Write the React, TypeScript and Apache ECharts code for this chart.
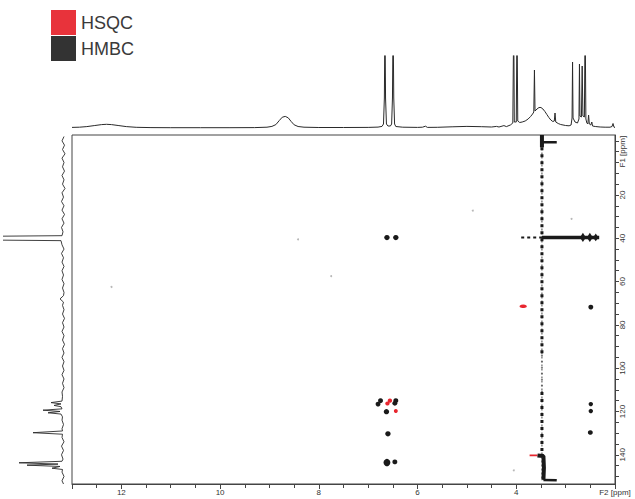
import React, { useEffect, useRef } from "react";
import * as echarts from "echarts";

// Axis ranges (ppm)
const F2_MIN = 2;
const F2_MAX = 13;
const F1_MIN = -7.7;
const F1_MAX = 153.5;

// F1 tick / label positions
const f1TickValues = [-5, 0, 5, 10, 15, 20, 25, 30, 35, 40, 45, 50, 55, 60, 65, 70, 75, 80, 85, 90, 95, 100, 105, 110, 115, 120, 125, 130, 135, 140, 145, 150];
const f1LabelValues = [0, 20, 40, 60, 80, 100, 120, 140];

// 1H projection (F2 ppm, intensity)
const protonProjection: [number, number][] = [
  [13.0, 0.6], [12.85, 0.8], [12.7, 1.4], [12.55, 2.4], [12.4, 3.4], [12.3, 3.7], [12.2, 3.4], [12.05, 2.4],
  [11.9, 1.4], [11.7, 0.7], [11.4, 0.4], [11.0, 0.3], [10.4, 0.3], [9.8, 0.3], [9.3, 0.4], [9.05, 0.8],
  [8.95, 1.6], [8.87, 3.4], [8.8, 7.5], [8.74, 10.8], [8.68, 11.6], [8.62, 10.2], [8.56, 6.5], [8.5, 3.2],
  [8.42, 1.5], [8.3, 0.8], [8.0, 0.5], [7.5, 0.5], [7.0, 0.6], [6.8, 0.9], [6.72, 1.6], [6.69, 4],
  [6.672, 30], [6.66, 110], [6.648, 30], [6.63, 4], [6.6, 2], [6.55, 2], [6.525, 4], [6.508, 30],
  [6.495, 110], [6.482, 30], [6.465, 4], [6.44, 1.5], [6.3, 0.8], [6.0, 0.6], [5.9, 0.8], [5.84, 1.8],
  [5.8, 0.6], [5.6, 0.7], [5.3, 1.2], [5.0, 1.6], [4.7, 1.3], [4.5, 1.0], [4.4, 1.6], [4.35, 1.0],
  [4.25, 2.4], [4.2, 1.4], [4.12, 3], [4.07, 5], [4.052, 110], [4.04, 6], [4.0, 6], [3.985, 110],
  [3.97, 7], [3.93, 5.5], [3.88, 6], [3.82, 7], [3.76, 9], [3.71, 11.5], [3.67, 14], [3.645, 16],
  [3.632, 58], [3.62, 17], [3.58, 19], [3.54, 20.5], [3.5, 20.5], [3.46, 19], [3.42, 16.5], [3.38, 13.5],
  [3.34, 10.5], [3.3, 8], [3.26, 6.5], [3.23, 7], [3.215, 15], [3.2, 6], [3.15, 4.5], [3.1, 3.5],
  [3.0, 2.5], [2.93, 2.2], [2.89, 3], [2.87, 10], [2.86, 66], [2.85, 10], [2.81, 6], [2.76, 5],
  [2.73, 9], [2.72, 64], [2.71, 12], [2.68, 11], [2.665, 62], [2.65, 12], [2.62, 11], [2.605, 110],
  [2.59, 9], [2.57, 5], [2.55, 4], [2.535, 13], [2.52, 4], [2.49, 3], [2.47, 6], [2.455, 2],
  [2.4, 1.5], [2.3, 1], [2.2, 0.8], [2.1, 0.8], [2.06, 1.5], [2.04, 4.5], [2.02, 0.8], [2.0, 0.6],
];

// 13C projection baseline (F1 ppm, intensity)
const carbonBaseline: [number, number][] = [
  [-7, 1], [-5, 3], [-3, 0.5], [-1, 2.5], [1, 0], [3, 3], [5, 1], [7, 2.5], [9, 0.5], [11, 3],
  [13, 1], [15, 2.5], [17, 0], [19, 3], [21, 1.5], [23, 3.5], [25, 1], [27, 3], [29, 0.5], [31, 3],
  [33, 1], [35, 3.5], [37, 2], [43, 3], [45, 1], [47, 3.5], [49, 1.5], [51, 3], [53, 1], [55, 3],
  [57, 1.5], [59, 3], [61, 1], [63, 2.5], [65, 1], [71, 2.5], [73, 1], [75, 2.5], [77, 0.5], [79, 2.5],
  [81, 1], [83, 3], [85, 1], [87, 2.5], [89, 0.5], [91, 2.5], [93, 1], [95, 3], [97, 1], [99, 2.5],
  [101, 1], [103, 3], [105, 1], [107, 2.5], [109, 1], [111, 3], [113, 2.5], [124, 3], [126, 1.5],
  [128, 3], [132, 3], [134, 1], [136, 3.5], [138, 1.5], [140, 3.5], [142, 2], [148, 3], [150, 1],
  [152, 3], [153.5, 1.5],
];

// 13C projection peaks (F1 ppm, intensity)
const carbonPeaks: [number, number][] = [
  [38.8, 3], [39.3, 130], [40.6, 130], [41.1, 4],
  [66.5, 1.5], [68, 5], [69.5, 1.5],
  [115.2, 3], [115.9, 14], [116.5, 4], [117.2, 11], [117.8, 4], [118.8, 3], [119.4, 22], [120.0, 5],
  [120.6, 17], [121.2, 4], [122.5, 2.5],
  [129, 2.5], [129.8, 32], [130.5, 2.5],
  [143, 3], [143.7, 46], [144.3, 7], [144.8, 38], [145.4, 5], [146.2, 13], [146.8, 2.5],
];

// Cross peaks: [F2, F1, extent in F2, extent in F1] (ppm)
const hsqcPeaks: [number, number, number, number][] = [
  [3.86, 71.4, 0.15, 1.7],
  [6.56, 115.0, 0.09, 1.9],
  [6.61, 116.3, 0.09, 1.9],
  [6.44, 119.8, 0.08, 1.8],
];

const hmbcPeaks: [number, number, number, number][] = [
  [6.62, 39.7, 0.11, 2.4],
  [6.44, 39.7, 0.11, 2.4],
  [2.49, 71.8, 0.1, 2.2],
  [2.49, 116.6, 0.09, 2.0],
  [2.49, 119.8, 0.09, 2.0],
  [2.5, 129.7, 0.1, 2.1],
  [6.75, 115.0, 0.1, 2.2],
  [6.8, 116.6, 0.1, 2.2],
  [6.44, 115.0, 0.1, 2.2],
  [6.46, 116.2, 0.1, 2.2],
  [6.63, 120.1, 0.11, 2.4],
  [6.6, 130.3, 0.11, 2.4],
  [6.62, 143.6, 0.14, 3.4],
  [6.46, 143.3, 0.1, 2.2],
];

// Solvent ridge multiplet on F1 ≈ 39.6
const ridgeBlobs: [number, number, number, number][] = [
  [2.65, 39.6, 0.12, 4.2],
  [2.51, 39.6, 0.12, 4.2],
  [2.39, 39.6, 0.11, 3.6],
];

// Weak isolated noise points
const noisePoints: [number, number][] = [
  [12.2, 62.5], [8.42, 40.5], [7.75, 57.5], [4.88, 27.2], [2.88, 31], [4.05, 147.2],
];

// t1-noise streak and ridge traces (F2, F1)
const streakF2 = 3.48;
const ridgeF1 = 39.6;
const streakCore: [number, number][] = [[streakF2, -7], [streakF2, 152]];
const streakDenseUpper: [number, number][] = [[streakF2, -2], [streakF2, 94]];
const streakSparse: [number, number][] = [[streakF2, 94], [streakF2, 111]];
const streakDenseLower: [number, number][] = [[streakF2, 111], [streakF2, 140]];
const streakTopCap: [number, number][] = [[streakF2, -7.7], [streakF2, -2]];
const streakTopSpur: [number, number][] = [[streakF2, -4.3], [3.18, -4.3]];
const streakBottomRed: [number, number][] = [[3.73, 140.3], [3.57, 140.3]];
const streakBottom: [number, number][] = [[3.57, 140.3], [3.45, 140.6], [3.44, 146], [3.45, 151.6]];
const streakBottomSpur: [number, number][] = [[3.45, 151.6], [3.18, 151.8]];
const ridgeDotted: [number, number][] = [[3.9, ridgeF1], [streakF2, ridgeF1]];
const ridgeSolid: [number, number][] = [[streakF2, ridgeF1], [2.32, ridgeF1]];

// Layout
const PLOT_LEFT = 72;
const PLOT_TOP = 135;
const PLOT_W = 543;
const PLOT_H = 349;
const PX_PER_F2 = PLOT_W / (F2_MAX - F2_MIN);
const PX_PER_F1 = PLOT_H / (F1_MAX - F1_MIN);

const RED = "#e8262f";
const BLACK = "#1a1a1a";
const FONT = "'Liberation Sans', Arial, sans-serif";

function peakSize(v: number[]) {
  return [v[2] * PX_PER_F2, v[3] * PX_PER_F1];
}

function trace(data: [number, number][], width: number, color: string, type: any = "solid") {
  return {
    type: "line",
    xAxisIndex: 0,
    yAxisIndex: 0,
    data,
    symbol: "none",
    silent: true,
    lineStyle: { width, color, type },
    z: 3,
  };
}

export default function App() {
  const ref = useRef<HTMLDivElement>(null);

  useEffect(() => {
    if (!ref.current) return;
    const chart = echarts.init(ref.current, undefined, { renderer: "svg" });

    const carbonProjection = [...carbonBaseline, ...carbonPeaks]
      .sort((a, b) => a[0] - b[0])
      .map((p) => [p[1], p[0]]);

    const option: any = {
      animation: false,
      backgroundColor: "#ffffff",
      legend: {
        data: [
          { name: "HSQC", itemStyle: { color: "#e8333b", opacity: 1 } },
          { name: "HMBC", itemStyle: { color: "#333333", opacity: 1 } },
        ],
        orient: "vertical",
        left: 51,
        top: 10,
        padding: 0,
        itemWidth: 25,
        itemHeight: 25,
        itemGap: 1,
        icon: "rect",
        selectedMode: false,
        textStyle: { fontSize: 18, color: "#3a3a3a", fontFamily: FONT },
      },
      grid: [
        {
          left: PLOT_LEFT, top: PLOT_TOP, width: PLOT_W, height: PLOT_H,
          show: true, borderColor: "#444", borderWidth: 1, backgroundColor: "transparent",
        },
        { left: PLOT_LEFT, top: 56, width: PLOT_W, height: 73 },
        { left: 4, top: PLOT_TOP, width: 64, height: PLOT_H },
      ],
      xAxis: [
        {
          gridIndex: 0,
          type: "value",
          min: F2_MIN,
          max: F2_MAX,
          inverse: true,
          interval: 2,
          axisLine: { show: true, onZero: false, lineStyle: { color: "#444" } },
          axisTick: { show: true, length: 5, lineStyle: { color: "#444" } },
          minorTick: { show: true, splitNumber: 4, length: 4, lineStyle: { color: "#444" } },
          splitLine: { show: false },
          axisLabel: {
            fontSize: 8,
            color: "#333",
            fontFamily: FONT,
            margin: 4,
            showMinLabel: true,
            showMaxLabel: false,
            formatter: (v: number) => (v === 2 ? "F2 [ppm]" : v === 13 ? "" : String(v)),
          },
        },
        { gridIndex: 1, type: "value", min: F2_MIN, max: F2_MAX, inverse: true, show: false },
        { gridIndex: 2, type: "value", min: -3, max: 61, inverse: true, show: false },
      ],
      yAxis: [
        {
          gridIndex: 0,
          type: "value",
          position: "right",
          min: F1_MIN,
          max: F1_MAX,
          inverse: true,
          axisLine: { show: true, onZero: false, lineStyle: { color: "#444" } },
          axisTick: { show: true, length: 4, customValues: f1TickValues, lineStyle: { color: "#444" } },
          splitLine: { show: false },
          axisLabel: {
            customValues: f1LabelValues,
            rotate: 90,
            fontSize: 8,
            color: "#333",
            fontFamily: FONT,
            margin: 3,
            formatter: (v: number) => (v === 0 ? "F1 [ppm]" : String(v)),
          },
        },
        { gridIndex: 1, type: "value", min: -1, max: 72, show: false },
        { gridIndex: 2, type: "value", min: F1_MIN, max: F1_MAX, inverse: true, show: false },
      ],
      series: [
        {
          type: "line",
          xAxisIndex: 1,
          yAxisIndex: 1,
          data: protonProjection,
          symbol: "none",
          silent: true,
          clip: true,
          lineStyle: { width: 1, color: "#2a2a2a" },
        },
        {
          type: "line",
          xAxisIndex: 2,
          yAxisIndex: 2,
          data: carbonProjection,
          symbol: "none",
          silent: true,
          clip: true,
          lineStyle: { width: 0.9, color: "#2a2a2a" },
        },
        trace(streakCore, 1, "#444", [2, 2]),
        trace(streakDenseUpper, 3, BLACK, [3, 4]),
        trace(streakSparse, 2, "#555", [1, 5]),
        trace(streakDenseLower, 3, BLACK, [3, 4]),
        trace(streakTopCap, 4, BLACK),
        trace(streakTopSpur, 2.5, BLACK),
        trace(streakBottomRed, 1.6, RED),
        trace(streakBottom, 4, BLACK),
        trace(streakBottomSpur, 2.5, BLACK),
        trace(ridgeDotted, 2, BLACK, [3, 3]),
        trace(ridgeSolid, 3.5, BLACK),
        {
          type: "scatter",
          xAxisIndex: 0,
          yAxisIndex: 0,
          data: noisePoints,
          symbol: "circle",
          symbolSize: 2,
          silent: true,
          itemStyle: { color: "#b8b8b8", opacity: 1 },
          z: 2,
        },
        {
          type: "scatter",
          xAxisIndex: 0,
          yAxisIndex: 0,
          data: ridgeBlobs,
          symbol: "diamond",
          symbolSize: peakSize,
          silent: true,
          itemStyle: { color: BLACK, opacity: 1 },
          z: 4,
        },
        {
          name: "HMBC",
          type: "scatter",
          xAxisIndex: 0,
          yAxisIndex: 0,
          data: hmbcPeaks,
          symbol: "circle",
          symbolSize: peakSize,
          silent: true,
          itemStyle: { color: BLACK, opacity: 1 },
          z: 4,
        },
        {
          name: "HSQC",
          type: "scatter",
          xAxisIndex: 0,
          yAxisIndex: 0,
          data: hsqcPeaks,
          symbol: "circle",
          symbolSize: peakSize,
          silent: true,
          itemStyle: { color: RED, opacity: 1 },
          z: 5,
        },
      ],
    };

    chart.setOption(option);
    return () => chart.dispose();
  }, []);

  return (
    <div
      ref={ref}
      style={{ position: "fixed", left: 0, top: 0, width: 635, height: 499, background: "#fff" }}
    />
  );
}
